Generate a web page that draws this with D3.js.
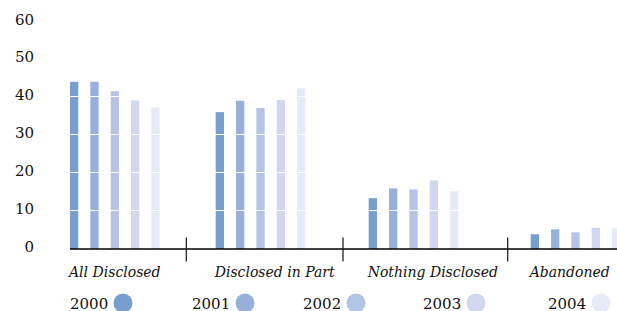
<!DOCTYPE html>
<html>
<head>
<meta charset="utf-8">
<script src="https://cdn.jsdelivr.net/npm/d3@7"></script>
<style>
  body { margin: 0; background: #fff; }
  svg { display: block; }
</style>
</head>
<body>
<div class="chart"></div>
<script>
const categories = ['All Disclosed', 'Disclosed in Part', 'Nothing Disclosed', 'Abandoned'];
const years = ['2000', '2001', '2002', '2003', '2004'];
const values2000 = [43.7, 35.7, 13.0, 3.5];
const values2001 = [43.7, 38.7, 15.6, 4.8];
const values2002 = [41.2, 36.8, 15.3, 4.0];
const values2003 = [38.8, 38.9, 17.7, 5.2];
const values2004 = [36.9, 42.0, 14.8, 5.1];
const yTicks = [0, 10, 20, 30, 40, 50, 60];

const series = [values2000, values2001, values2002, values2003, values2004];
const colors = ['#789dcf', '#97b0db', '#b4c4e5', '#cfd8ee', '#e6e9f6'];

const width = 617, height = 311;
// Liberation Serif is not picked up here, DejaVu Serif is
const serif = "'DejaVu Serif', serif";

const svg = d3.select('.chart')
  .append('svg')
  .attr('width', width)
  .attr('height', height);

const y = d3.scaleLinear().domain([0, 60]).range([247.5, 20]);
// groups are not evenly spaced in the original
const xGroup = d3.scaleOrdinal().domain(categories).range([70, 215.7, 368.7, 530.7]);
const xYear = d3.scalePoint().domain(years).range([0, 81.3]);
const color = d3.scaleOrdinal().domain(years).range(colors);
const barW = 8.3;
const baseY = 249;

const rows = [];
categories.forEach((c, ci) => {
  years.forEach((yr, yi) => rows.push({ cat: c, year: yr, value: series[yi][ci] }));
});

svg.append('g')
  .selectAll('rect')
  .data(rows)
  .join('rect')
  .attr('x', d => xGroup(d.cat) + xYear(d.year))
  .attr('y', d => y(d.value))
  .attr('width', barW)
  .attr('height', d => baseY - y(d.value))
  .attr('fill', d => color(d.year));

// white grid lines over the bars
svg.append('g')
  .selectAll('line')
  .data(yTicks.filter(t => t > 0))
  .join('line')
  .attr('x1', 60).attr('x2', width)
  .attr('y1', d => Math.round(y(d)) + 0.5)
  .attr('y2', d => Math.round(y(d)) + 0.5)
  .attr('stroke', '#fff')
  .attr('stroke-width', 1);

// y labels
svg.append('g')
  .selectAll('text')
  .data(yTicks)
  .join('text')
  .attr('x', 34)
  .attr('y', d => y(d) + 4.5)
  .attr('text-anchor', 'end')
  .style('font-family', serif)
  .attr('font-size', 15)
  .attr('fill', '#111')
  .text(d => d);

// baseline
svg.append('line')
  .attr('x1', 70).attr('x2', width)
  .attr('y1', baseY).attr('y2', baseY)
  .attr('stroke', '#000')
  .attr('stroke-width', 1.3);

// separators
svg.append('g')
  .selectAll('line')
  .data([186.3, 343, 507.7])
  .join('line')
  .attr('x1', d => d).attr('x2', d => d)
  .attr('y1', 237.5).attr('y2', 261.5)
  .attr('stroke', '#111')
  .attr('stroke-width', 1.2);

// category labels
svg.append('g')
  .selectAll('text')
  .data(categories)
  .join('text')
  .attr('x', d => xGroup(d) - 1)
  .attr('y', 277)
  .style('font-family', serif)
  .attr('font-size', 14)
  .attr('font-style', 'italic')
  .attr('fill', '#111')
  .text(d => d);

// legend
const legendX = d3.scaleOrdinal().domain(years).range([70, 192, 303, 423, 548]);
const legend = svg.append('g')
  .selectAll('g')
  .data(years)
  .join('g')
  .attr('transform', d => `translate(${legendX(d)},0)`);

legend.append('text')
  .attr('x', 0)
  .attr('y', 308.5)
  .style('font-family', serif)
  .attr('font-size', 15)
  .attr('fill', '#111')
  .text(d => d);

legend.append('circle')
  .attr('cx', 53)
  .attr('cy', 303)
  .attr('r', 9.5)
  .attr('fill', d => color(d));
</script>
</body>
</html>
